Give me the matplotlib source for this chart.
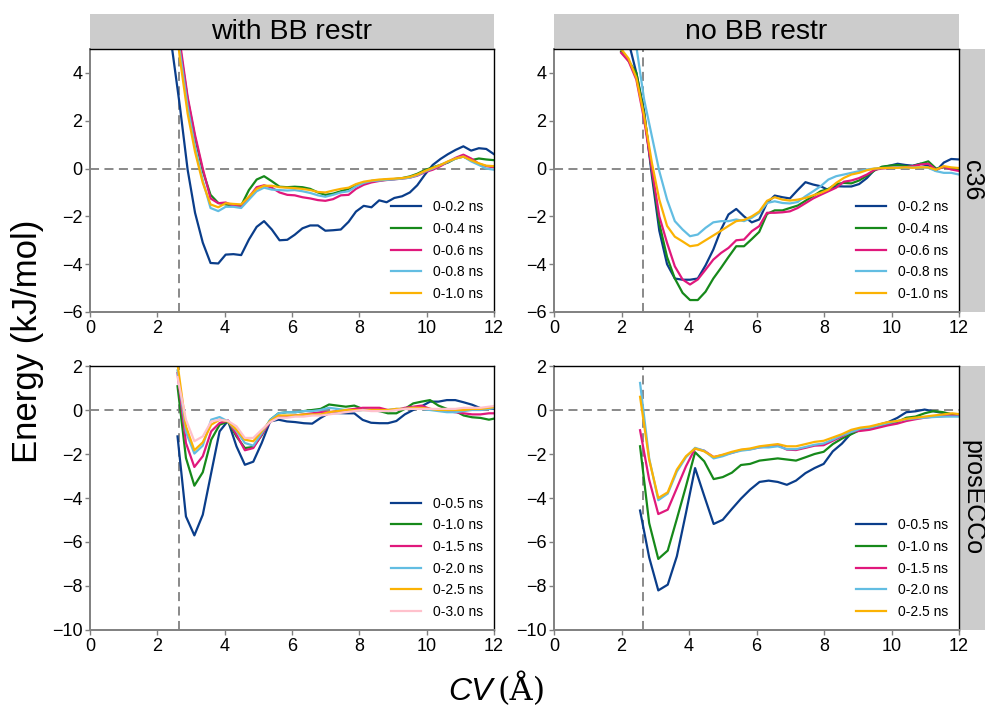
import matplotlib
matplotlib.use("Agg")
import matplotlib.pyplot as plt
from matplotlib.patches import Rectangle

plt.rcParams['font.family'] = ['Liberation Sans', 'DejaVu Sans']

# ---------------- data ----------------
col_titles = ["with BB restr", "no BB restr"]
row_titles = ["c36", "prosECCo"]
x_ticks = [0, 2, 4, 6, 8, 10, 12]
y_ticks_top = [4, 2, 0, -2, -4, -6]
y_ticks_bot = [2, 0, -2, -4, -6, -8, -10]
cv_ref = 2.65

x_top = [1.99, 2.21, 2.44, 2.67, 2.90, 3.12, 3.35, 3.58, 3.81, 4.03, 4.26, 4.49, 4.72,
         4.95, 5.17, 5.40, 5.63, 5.86, 6.08, 6.31, 6.54, 6.77, 6.99, 7.22, 7.45, 7.68,
         7.90, 8.13, 8.36, 8.59, 8.81, 9.04, 9.27, 9.50, 9.72, 9.95, 10.18, 10.41, 10.63,
         10.86, 11.09, 11.32, 11.55, 11.77, 12.00]

labels_top = ["0-0.2 ns", "0-0.4 ns", "0-0.6 ns", "0-0.8 ns", "0-1.0 ns"]

tl_02 = [11.0, 8.5, 5.0, 2.6, -0.05, -1.85, -3.1, -3.95, -3.97, -3.6, -3.58, -3.62, -2.97,
         -2.44, -2.2, -2.55, -3.0, -2.98, -2.77, -2.5, -2.38, -2.38, -2.6, -2.58, -2.55, -2.23,
         -1.8, -1.56, -1.62, -1.33, -1.41, -1.23, -1.16, -1.0, -0.7, -0.25, 0.15, 0.4, 0.6,
         0.78, 0.93, 0.75, 0.85, 0.82, 0.6]
tl_04 = [14, 11, 8, 5.1, 2.9, 1.3, -0.1, -1.1, -1.44, -1.5, -1.55, -1.55, -0.9, -0.46, -0.32,
         -0.53, -0.76, -0.78, -0.76, -0.78, -0.85, -1.0, -1.1, -1.05, -0.95, -0.85, -0.72, -0.6,
         -0.52, -0.5, -0.46, -0.44, -0.4, -0.33, -0.22, -0.06, 0.05, 0.15, 0.25, 0.42, 0.5,
         0.35, 0.42, 0.38, 0.35]
tl_06 = [14.5, 11.5, 8.5, 5.3, 3.0, 1.4, 0.0, -1.25, -1.45, -1.42, -1.55, -1.6, -1.2, -0.78,
         -0.7, -0.8, -1.0, -1.1, -1.12, -1.2, -1.25, -1.32, -1.35, -1.28, -1.12, -1.1, -0.85,
         -0.68, -0.58, -0.52, -0.48, -0.45, -0.42, -0.38, -0.3, -0.15, -0.05, 0.1, 0.28, 0.45,
         0.58, 0.42, 0.2, 0.1, 0.05]
tl_08 = [14, 11, 8, 4.9, 2.6, 0.9, -0.5, -1.65, -1.78, -1.6, -1.6, -1.65, -1.3, -0.95, -0.8,
         -0.88, -0.9, -0.92, -0.9, -0.95, -1.02, -1.12, -1.18, -1.1, -1.0, -0.95, -0.75, -0.6,
         -0.52, -0.5, -0.47, -0.45, -0.42, -0.38, -0.28, -0.12, 0.0, 0.15, 0.28, 0.42, 0.5,
         0.3, 0.15, 0.0, -0.05]
tl_10 = [13.5, 10.5, 7.5, 4.6, 2.3, 0.7, -0.6, -1.5, -1.62, -1.45, -1.48, -1.5, -1.18, -0.85,
         -0.72, -0.72, -0.78, -0.8, -0.82, -0.85, -0.9, -0.98, -1.0, -0.92, -0.85, -0.8, -0.65,
         -0.55, -0.5, -0.46, -0.44, -0.42, -0.4, -0.35, -0.25, -0.1, 0.03, 0.15, 0.3, 0.42,
         0.5, 0.35, 0.22, 0.12, 0.1]

tr_02 = [6.5, 5.3, 4.0, 2.4, -0.3, -2.6, -4.0, -4.6, -4.65, -4.65, -4.6, -4.05, -3.39, -2.55,
         -1.92, -1.69, -2.0, -2.25, -2.13, -1.44, -1.13, -1.2, -1.25, -0.9, -0.57, -0.67, -0.74,
         -0.9, -0.74, -0.75, -0.75, -0.65, -0.4, -0.05, 0.05, 0.12, 0.2, 0.15, 0.12, 0.2, 0.12,
         -0.1, 0.25, 0.4, 0.38]
tr_04 = [4.9, 4.5, 4.0, 2.3, -0.1, -2.3, -3.7, -4.6, -5.2, -5.5, -5.5, -5.15, -4.6, -4.15,
         -3.7, -3.25, -3.25, -2.95, -2.65, -1.9, -1.75, -1.75, -1.65, -1.55, -1.35, -1.15,
         -0.95, -0.85, -0.65, -0.6, -0.62, -0.5, -0.3, -0.08, 0.08, 0.12, 0.15, 0.1, 0.1, 0.2,
         0.3, 0.0, 0.05, 0.0, -0.05]
tr_06 = [4.84, 4.49, 3.72, 2.05, -0.04, -2.0, -3.11, -4.09, -4.64, -4.85, -4.64, -4.23, -3.81,
         -3.53, -3.32, -3.0, -2.97, -2.62, -2.41, -1.85, -1.85, -1.83, -1.79, -1.65, -1.45,
         -1.25, -1.1, -0.95, -0.8, -0.55, -0.5, -0.4, -0.25, -0.05, 0.0, 0.03, 0.05, 0.05, 0.1,
         0.17, 0.2, -0.05, 0.07, -0.04, -0.1]
tr_08 = [6.5, 5.8, 5.1, 2.89, 1.35, -0.11, -1.3, -2.2, -2.55, -2.83, -2.76, -2.48, -2.25, -2.2,
         -2.2, -2.13, -2.2, -2.06, -1.85, -1.44, -1.37, -1.44, -1.46, -1.4, -1.16, -0.95, -0.74,
         -0.46, -0.32, -0.25, -0.18, -0.11, -0.04, 0.0, 0.02, 0.03, 0.05, 0.03, 0.05, 0.05,
         0.03, -0.11, -0.18, -0.18, -0.25]
tr_10 = [5.0, 4.6, 3.8, 2.2, 0.24, -1.3, -2.4, -2.85, -3.05, -3.25, -3.2, -3.0, -2.8, -2.6,
         -2.4, -2.2, -2.15, -2.0, -1.8, -1.35, -1.2, -1.3, -1.34, -1.3, -1.23, -1.12, -1.02,
         -0.88, -0.6, -0.39, -0.25, -0.18, -0.07, 0.0, 0.02, 0.03, 0.03, 0.05, 0.03, 0.05,
         0.05, -0.05, 0.1, 0.05, 0.02]

x_bl = [2.60, 2.85, 3.10, 3.35, 3.60, 3.85, 4.10, 4.35, 4.60, 4.85, 5.10, 5.35, 5.60, 5.85,
        6.10, 6.35, 6.60, 6.85, 7.10, 7.35, 7.60, 7.85, 8.10, 8.35, 8.60, 8.85, 9.10, 9.35,
        9.60, 9.85, 10.10, 10.35, 10.60, 10.85, 11.10, 11.35, 11.60, 11.85, 12.10]
labels_bl = ["0-0.5 ns", "0-1.0 ns", "0-1.5 ns", "0-2.0 ns", "0-2.5 ns", "0-3.0 ns"]

bl_05 = [-1.2, -4.84, -5.7, -4.76, -2.86, -0.97, -0.49, -1.65, -2.49, -2.35, -1.5, -0.52, -0.44,
         -0.52, -0.55, -0.6, -0.62, -0.36, -0.14, -0.14, -0.15, -0.15, -0.45, -0.58, -0.6, -0.6,
         -0.5, -0.2, 0.0, 0.17, 0.38, 0.38, 0.45, 0.45, 0.35, 0.24, 0.08, 0.05, 0.05]
bl_10 = [1.08, -2.18, -3.44, -2.83, -1.35, -0.67, -0.52, -1.2, -1.73, -1.68, -1.15, -0.45, -0.15,
         -0.1, -0.1, -0.05, 0.0, 0.05, 0.25, 0.2, 0.15, 0.2, 0.05, 0.0, -0.05, -0.15, -0.15,
         0.05, 0.3, 0.38, 0.45, 0.2, 0.05, -0.05, -0.25, -0.33, -0.36, -0.44, -0.36]
bl_15 = [1.68, -1.5, -2.59, -2.1, -0.97, -0.59, -0.48, -1.12, -1.83, -1.73, -1.12, -0.52, -0.3,
         -0.28, -0.25, -0.2, -0.15, -0.1, -0.1, -0.05, 0.0, 0.05, 0.1, 0.1, 0.1, 0.0, 0.0, 0.1,
         0.15, 0.2, 0.05, 0.0, -0.05, -0.1, -0.15, -0.2, -0.2, -0.15, -0.15]
bl_20 = [1.8, -1.0, -1.98, -1.62, -0.44, -0.32, -0.52, -0.95, -1.5, -1.62, -1.05, -0.45, -0.15,
         -0.1, -0.1, -0.05, -0.05, 0.0, 0.1, 0.05, 0.0, -0.05, 0.0, 0.0, -0.05, 0.0, 0.05, 0.05,
         0.1, 0.05, 0.0, -0.05, -0.1, -0.1, -0.05, 0.0, 0.0, 0.05, 0.1]
bl_25 = [2.1, -0.74, -1.83, -1.47, -0.67, -0.44, -0.52, -0.9, -1.35, -1.42, -0.97, -0.5, -0.25,
         -0.25, -0.25, -0.2, -0.2, -0.2, -0.1, -0.05, 0.0, 0.0, 0.0, 0.0, 0.0, 0.0, 0.05, 0.05,
         0.1, 0.1, 0.05, 0.0, 0.0, 0.0, 0.0, 0.05, 0.05, 0.1, 0.15]
bl_30 = [1.5, -0.44, -1.42, -1.2, -0.52, -0.44, -0.5, -0.74, -1.27, -1.27, -0.9, -0.55, -0.35,
         -0.35, -0.3, -0.3, -0.25, -0.25, -0.2, -0.15, -0.1, -0.05, 0.0, -0.05, -0.05, -0.05,
         0.0, 0.05, 0.05, 0.05, 0.05, 0.05, 0.05, 0.05, 0.1, 0.1, 0.1, 0.15, 0.2]

x_br = [2.55, 2.82, 3.09, 3.37, 3.64, 3.91, 4.18, 4.45, 4.73, 5.00, 5.27, 5.54, 5.81, 6.09,
        6.36, 6.63, 6.90, 7.17, 7.45, 7.72, 7.99, 8.26, 8.53, 8.81, 9.08, 9.35, 9.62, 9.89,
        10.17, 10.44, 10.71, 10.98, 11.25, 11.53, 11.80, 12.07]
labels_br = ["0-0.5 ns", "0-1.0 ns", "0-1.5 ns", "0-2.0 ns", "0-2.5 ns"]

br_05 = [-4.57, -6.7, -8.2, -7.94, -6.65, -4.68, -2.64, -3.9, -5.18, -4.99, -4.5, -4.03, -3.62,
         -3.27, -3.21, -3.27, -3.4, -3.21, -2.87, -2.64, -2.45, -1.88, -1.53, -1.05, -0.9, -0.82,
         -0.67, -0.56, -0.36, -0.1, -0.06, 0.02, -0.06, -0.14, -0.2, -0.26]
br_10 = [-1.65, -5.14, -6.77, -6.39, -4.95, -3.47, -1.92, -2.33, -3.14, -3.05, -2.85, -2.5,
         -2.45, -2.3, -2.25, -2.2, -2.25, -2.3, -2.15, -2.0, -1.9, -1.55, -1.3, -1.1, -0.9,
         -0.85, -0.75, -0.65, -0.55, -0.35, -0.3, -0.15, -0.05, -0.1, -0.2, -0.25]
br_15 = [-0.92, -3.17, -4.73, -4.53, -3.55, -2.56, -1.75, -1.85, -2.14, -2.05, -1.95, -1.82,
         -1.78, -1.7, -1.65, -1.6, -1.8, -1.82, -1.72, -1.62, -1.6, -1.4, -1.2, -0.98, -0.95,
         -0.9, -0.8, -0.7, -0.62, -0.5, -0.42, -0.35, -0.3, -0.28, -0.25, -0.25]
br_20 = [1.23, -2.2, -4.1, -3.8, -2.8, -2.15, -1.72, -1.85, -2.2, -2.1, -1.95, -1.85, -1.8,
         -1.7, -1.7, -1.65, -1.78, -1.78, -1.68, -1.58, -1.52, -1.35, -1.15, -1.0, -0.85, -0.8,
         -0.7, -0.6, -0.5, -0.42, -0.38, -0.35, -0.32, -0.3, -0.3, -0.3]
br_25 = [0.6, -2.26, -4.0, -3.74, -2.71, -2.1, -1.75, -1.88, -2.14, -2.03, -1.9, -1.8, -1.75,
         -1.65, -1.6, -1.55, -1.65, -1.65, -1.55, -1.45, -1.4, -1.25, -1.1, -0.9, -0.8, -0.75,
         -0.65, -0.55, -0.5, -0.4, -0.35, -0.3, -0.25, -0.2, -0.15, -0.2]

colors = ["#0a3d8a", "#16891a", "#e0187c", "#62bde2", "#fbb203", "#ffc1cc"]

# ---------------- figure ----------------
W, H = 985, 710
fig = plt.figure(figsize=(W / 100, H / 100), dpi=100)


def ax_at(l, t, r, b):
    return fig.add_axes([l / W, 1 - b / H, (r - l) / W, (b - t) / H])


panels = [
    (ax_at(90, 49, 494, 312), x_top, [tl_02, tl_04, tl_06, tl_08, tl_10], labels_top,
     (-6, 5), y_ticks_top, 0, 0),
    (ax_at(554, 49, 959, 312), x_top, [tr_02, tr_04, tr_06, tr_08, tr_10], labels_top,
     (-6, 5), y_ticks_top, 0, 1),
    (ax_at(90, 366, 494, 630), x_bl, [bl_05, bl_10, bl_15, bl_20, bl_25, bl_30], labels_bl,
     (-10, 2), y_ticks_bot, 1, 0),
    (ax_at(554, 366, 959, 630), x_br, [br_05, br_10, br_15, br_20, br_25], labels_br,
     (-10, 2), y_ticks_bot, 1, 1),
]

strip_color = "#cccccc"
for ax, xs, series, labels, ylim, yticks, row, col in panels:
    ax.axhline(0, color="#808080", lw=1.3, ls=(0, (5, 3)), zorder=1)
    ax.axvline(cv_ref, color="#808080", lw=1.3, ls=(0, (5, 3)), zorder=1)
    for ys, lab, c in zip(series, labels, colors):
        ax.plot(xs, ys, color=c, lw=1.6, label=lab, zorder=2)
    ax.set_xlim(0, 12)
    ax.set_ylim(*ylim)
    ax.set_xticks(x_ticks)
    ax.set_yticks(yticks)
    ax.tick_params(labelsize=13, length=3.5, width=1, color="#808080", pad=2)
    for s in ("left", "bottom"):
        ax.spines[s].set_color("#808080")
        ax.spines[s].set_linewidth(1.4)
    for s in ("top", "right"):
        ax.spines[s].set_color("black")
        ax.spines[s].set_linewidth(1.0)
    ax.legend(loc="lower right", frameon=False, fontsize=10, handlelength=2.15,
              labelspacing=0.55, borderaxespad=0.4, handletextpad=0.85)
    bb = ax.get_position()
    hpx = bb.height * H
    wpx = bb.width * W
    if row == 0:
        ax.add_patch(Rectangle((0, 1), 1, 35 / hpx, transform=ax.transAxes,
                               clip_on=False, facecolor=strip_color, edgecolor="none"))
        ax.text(0.5, 1 + 17.5 / hpx, col_titles[col], transform=ax.transAxes,
                ha="center", va="center", fontsize=20.5)
    if col == 1:
        ax.add_patch(Rectangle((1, 0), 27 / wpx, 1, transform=ax.transAxes,
                               clip_on=False, facecolor=strip_color, edgecolor="none"))
        ax.text(1 + 13 / wpx, 0.5, row_titles[row], transform=ax.transAxes,
                ha="center", va="center", rotation=270, fontsize=18)

fig.text(28 / W, 1 - 341 / H, "Energy (kJ/mol)", rotation=90, ha="center", va="center",
         fontsize=25)
fig.text(493 / W, 1 - 700 / H, "CV", style="italic", ha="right", va="baseline", fontsize=23)
fig.text(497 / W, 1 - 700 / H, "(Å)", family="DejaVu Serif", ha="left", va="baseline",
         fontsize=23)

fig.savefig("out.png", dpi=100)
